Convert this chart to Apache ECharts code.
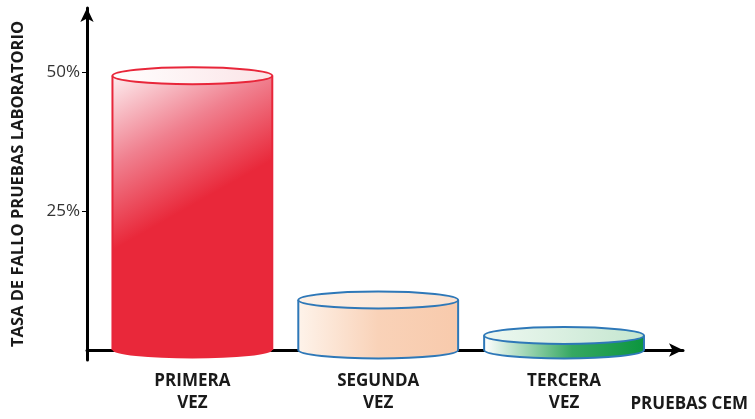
<!DOCTYPE html>
<html>
<head>
<meta charset="utf-8">
<script src="https://cdn.jsdelivr.net/npm/echarts@6/dist/echarts.min.js"></script>
<style>
html,body{margin:0;padding:0;background:#fff;}
#chart{width:755px;height:419px;}
</style>
</head>
<body>
<div id="chart"></div>
<script>
/* datos */
const categories = ["PRIMERA\nVEZ", "SEGUNDA\nVEZ", "TERCERA\nVEZ"];
const positions = [1, 2, 3];
const failRate = [49.3, 9, 2.6];
const yTicks = [25, 50];

const G = echarts.graphic;

/* estilos de cada cilindro */
const styles = [
	{
		body: new G.LinearGradient(0, 0, 0.6, 0.6, [
			{offset: 0, color: "#fdeef0"},
			{offset: 0.4, color: "#f0808f"},
			{offset: 0.78, color: "#e9283a"},
			{offset: 1, color: "#e9283a"}
		]),
		top: new G.LinearGradient(0, 0, 1, 0, [
			{offset: 0, color: "#ffffff"},
			{offset: 1, color: "#fbe3e6"}
		]),
		stroke: "#e8263a",
		bottomStroke: false
	},
	{
		body: new G.LinearGradient(0, 0, 1, 0, [
			{offset: 0, color: "#fef3ea"},
			{offset: 0.5, color: "#f9d2b8"},
			{offset: 1, color: "#f8caac"}
		]),
		top: new G.LinearGradient(0, 0, 1, 0, [
			{offset: 0, color: "#fdf1e7"},
			{offset: 1, color: "#fbe1cf"}
		]),
		stroke: "#2e78b8",
		bottomStroke: true
	},
	{
		body: new G.LinearGradient(0, 0, 1, 0, [
			{offset: 0, color: "#ffffff"},
			{offset: 0.55, color: "#36a862"},
			{offset: 1, color: "#0c953f"}
		]),
		top: new G.LinearGradient(0, 0, 1, 0, [
			{offset: 0, color: "#eef8f1"},
			{offset: 1, color: "#c4e6cf"}
		]),
		stroke: "#2e78b8",
		bottomStroke: true
	}
];

const chartData = positions.map((p, i) => [p, failRate[i]]);

function renderCylinder(params, api){
	const i = params.dataIndex;
	const st = styles[i];
	const top = api.coord([api.value(0), api.value(1)]);
	const base = api.coord([api.value(0), 0]);
	const w = api.size([0.86, 0])[0];
	const rx = w / 2, ry = 8.5;
	const l = top[0] - rx, r = top[0] + rx;
	const yt = top[1], yb = base[1];

	const bodyPath = `M${l},${yt} L${l},${yb} A${rx},${ry} 0 0 0 ${r},${yb} L${r},${yt} Z`;
	const children = [
		{
			type: "path",
			shape: {pathData: bodyPath},
			style: {fill: st.body, stroke: null}
		},
		{
			type: "path",
			shape: {pathData: st.bottomStroke
				? `M${l},${yt} L${l},${yb} A${rx},${ry} 0 0 0 ${r},${yb} L${r},${yt}`
				: `M${l},${yt} L${l},${yb} M${r},${yb} L${r},${yt}`},
			style: {fill: null, stroke: st.stroke, lineWidth: 2}
		},
		{
			type: "ellipse",
			shape: {cx: top[0], cy: yt, rx: rx, ry: ry},
			style: {fill: st.top, stroke: st.stroke, lineWidth: 2}
		}
	];
	return {type: "group", children};
}

const myChart = echarts.init(document.getElementById("chart"));

myChart.setOption({
	animation: false,
	title: {
		text: "PRUEBAS CEM",
		right: 2,
		bottom: 1,
		textStyle: {fontFamily: "Open Sans", fontWeight: "bold", fontSize: 17, color: "#1a1a1a"}
	},
	grid: {left: 87, right: 72, top: 8, bottom: 59, containLabel: false, outerBoundsMode: "none"},
	xAxis: {
		type: "value",
		min: 0.433,
		max: 3.64,
		splitLine: {show: false},
		axisTick: {show: false},
		axisLine: {
			show: true,
			symbol: ["none", "arrow"],
			symbolSize: [10, 14],
			lineStyle: {color: "#000", width: 3}
		},
		axisLabel: {
			customValues: positions,
			formatter: v => categories[positions.indexOf(v)] || "",
			margin: 10,
			lineHeight: 22,
			fontFamily: "Open Sans",
			fontWeight: "bold",
			fontSize: 17,
			color: "#1a1a1a"
		}
	},
	yAxis: {
		type: "value",
		min: -1.8,
		max: 61.5,
		name: "TASA DE FALLO PRUEBAS LABORATORIO",
		nameLocation: "middle",
		nameGap: 60,
		nameTextStyle: {fontFamily: "Open Sans", fontWeight: "bold", fontSize: 16.5, color: "#1a1a1a"},
		splitLine: {show: false},
		axisLine: {
			show: true,
			symbol: ["none", "arrow"],
			symbolSize: [10, 14],
			lineStyle: {color: "#000", width: 3}
		},
		axisTick: {show: true, customValues: yTicks, length: 5, lineStyle: {color: "#000", width: 1}},
		axisLabel: {
			customValues: yTicks,
			formatter: "{value}%",
			margin: 7,
			fontFamily: "Open Sans",
			fontSize: 17,
			color: "#333"
		}
	},
	series: [{
		type: "custom",
		renderItem: renderCylinder,
		data: chartData,
		clip: false
	}]
});
</script>
</body>
</html>
